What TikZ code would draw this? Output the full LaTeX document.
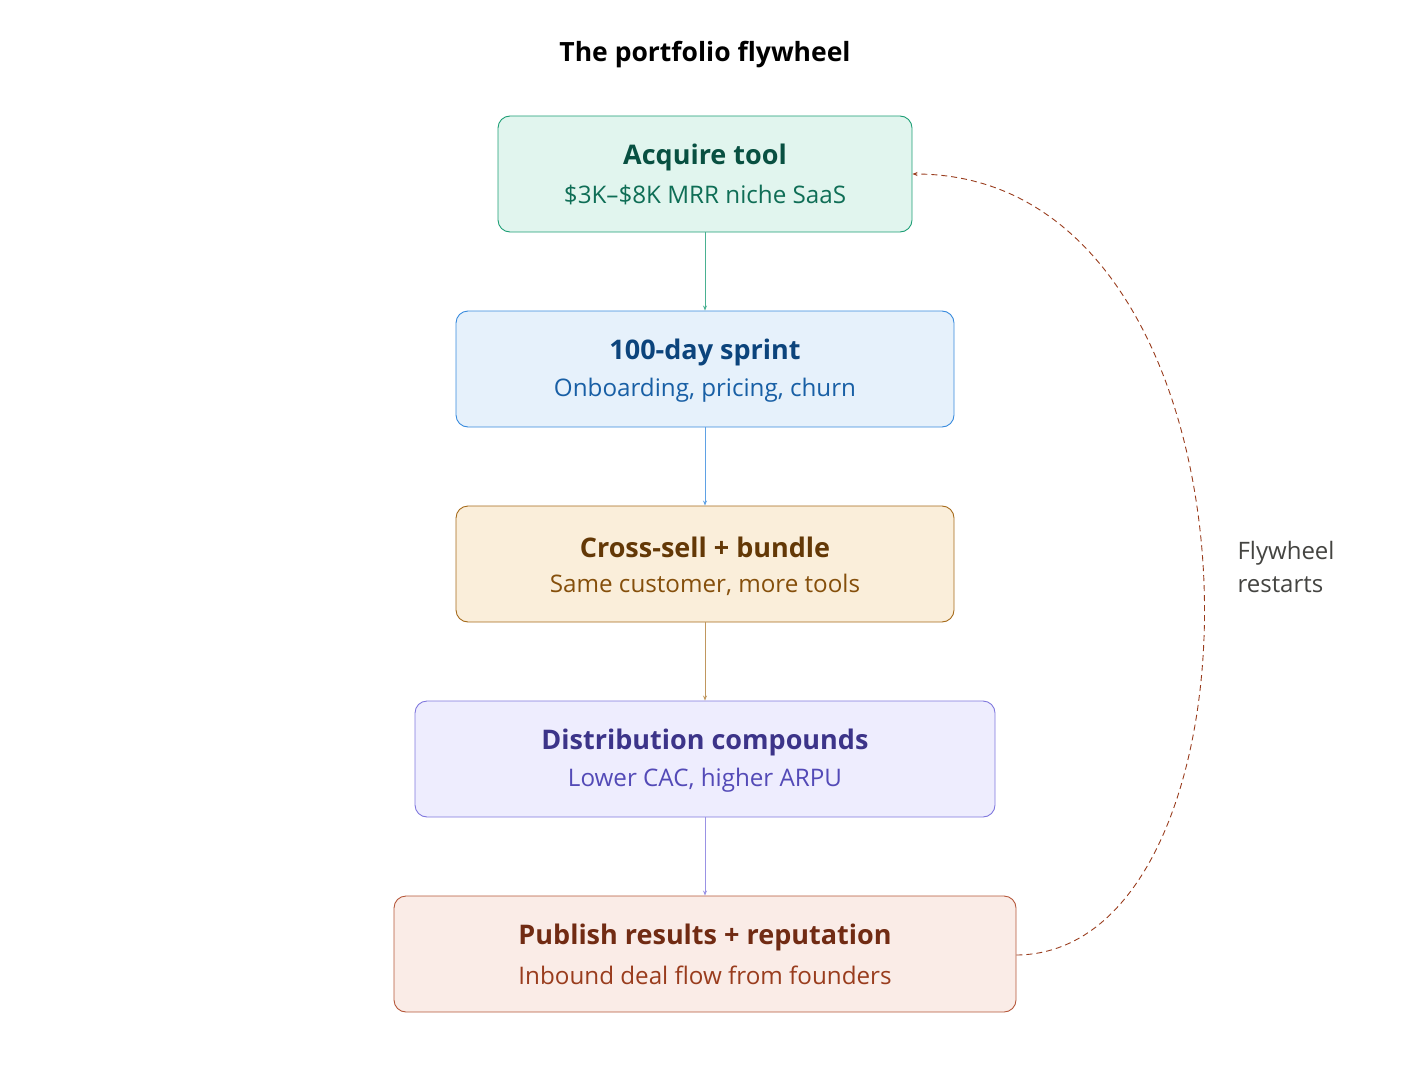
\documentclass[tikz,border=0pt]{standalone}
\usepackage{fontspec}
\setmainfont{Open Sans}
\usetikzlibrary{arrows.meta}
\definecolor{gF}{HTML}{E1F5EE}\definecolor{gD}{HTML}{1D9E75}\definecolor{gT}{HTML}{085041}\definecolor{gS}{HTML}{0F6E56}
\definecolor{bF}{HTML}{E6F1FB}\definecolor{bD}{HTML}{378ADD}\definecolor{bT}{HTML}{0C447C}\definecolor{bS}{HTML}{185FA5}
\definecolor{oF}{HTML}{FAEEDA}\definecolor{oD}{HTML}{A56A1A}\definecolor{oT}{HTML}{633806}\definecolor{oS}{HTML}{854F0B}
\definecolor{pF}{HTML}{EEEDFE}\definecolor{pD}{HTML}{7F77DD}\definecolor{pT}{HTML}{3C3489}\definecolor{pS}{HTML}{534AB7}
\definecolor{rF}{HTML}{FAECE7}\definecolor{rD}{HTML}{B5573A}\definecolor{rT}{HTML}{712B13}\definecolor{rS}{HTML}{993C1D}
\definecolor{lbl}{HTML}{444441}
\begin{document}
\begin{tikzpicture}[x=1pt,y=-1pt,
  card/.style={rectangle,rounded corners=12pt,line width=0.9pt,inner sep=0pt},
  ttl/.style={font=\fontsize{27}{30}\selectfont\bfseries},
  sub/.style={font=\fontsize{24.2}{26}\selectfont},
  flow/.style={line width=1pt,-{Stealth[length=5pt,width=4pt]}}]
\useasboundingbox (0,0) rectangle (1410,1078);
\node[font=\fontsize{26.5}{30}\selectfont\bfseries] (title) at (705,55) {The portfolio flywheel};
% boxes
\node[card,draw=gD,fill=gF,minimum width=414pt,minimum height=116pt] (b1) at (705,174) {};
\node[ttl,text=gT] (t1) at (705,157) {Acquire tool};
\node[sub,text=gS] (s1) at (705,195) {\$3K–\$8K MRR niche SaaS};
\node[card,draw=bD,fill=bF,minimum width=498pt,minimum height=116pt] (b2) at (705,369) {};
\node[ttl,text=bT] (t2) at (705,352) {100-day sprint};
\node[sub,text=bS] (s2) at (705,390) {Onboarding, pricing, churn};
\node[card,draw=oD,fill=oF,minimum width=498pt,minimum height=116pt] (b3) at (705,564) {};
\node[ttl,text=oT] (t3) at (705,547) {Cross-sell + bundle};
\node[sub,text=oS] (s3) at (705,585) {Same customer, more tools};
\node[card,draw=pD,fill=pF,minimum width=580pt,minimum height=116pt] (b4) at (705,759) {};
\node[ttl,text=pT] (t4) at (705,742) {Distribution compounds};
\node[sub,text=pS] (s4) at (705,780) {Lower CAC, higher ARPU};
\node[card,draw=rD,fill=rF,minimum width=622pt,minimum height=116pt] (b5) at (705,954) {};
\node[ttl,text=rT] (t5) at (705,937) {Publish results + reputation};
\node[sub,text=rS] (s5) at (705,975) {Inbound deal flow from founders};
% connectors
\draw[flow,draw=gD!80] (b1.south) -- (b2.north);
\draw[flow,draw=bD!80] (b2.south) -- (b3.north);
\draw[flow,draw=oD!70] (b3.south) -- (b4.north);
\draw[flow,draw=pD!80] (b4.south) -- (b5.north);
\coordinate (e5) at ([yshift=-1pt]b5.east);
\coordinate (e1) at (b1.east);
\draw[rS,line width=0.9pt,dash pattern=on 6pt off 4pt,-{Stealth[length=5pt,width=4pt]}]
  (e5) .. controls (1282,953) and (1282,174) .. (e1);
\node[sub,text=lbl,align=left,anchor=north west,font=\fontsize{24}{33}\selectfont] (lab) at (1234,538) {Flywheel\\restarts};
\end{tikzpicture}
\end{document}
